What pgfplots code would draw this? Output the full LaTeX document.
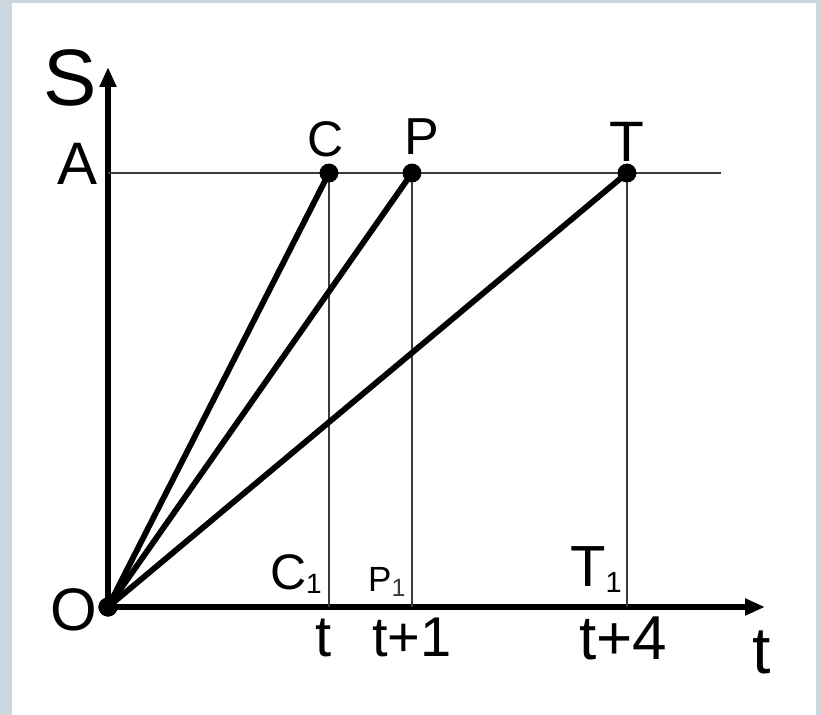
\documentclass[border=0pt]{standalone}
\usepackage{fontspec}
\setmainfont{Liberation Sans}
\usepackage{pgfplots}
\pgfplotsset{compat=1.18}
\usetikzlibrary{arrows.meta}
\definecolor{frame}{RGB}{203,214,222}
\definecolor{guide}{RGB}{60,60,60}
\newcommand\fs[1]{\fontsize{#1bp}{#1bp}\selectfont}
\begin{document}
\begin{tikzpicture}
\path[use as bounding box] (0,0) rectangle (821bp,715bp);
\fill[frame] (0,0) rectangle (821bp,715bp);
\fill[white] (12bp,0) rectangle (816bp,712bp);
\begin{axis}[
  at={(108bp,108bp)}, anchor=origin,
  x=1bp, y=1bp,
  xmin=0, xmax=657, ymin=0, ymax=540,
  axis lines=middle,
  axis line style={line width=5.5bp, -{Triangle[length=20bp,width=16bp]}},
  xtick=\empty, ytick=\empty,
  clip=false,
]
% level A and the drop lines
\addplot[guide, line width=1.8bp] coordinates {(0,434) (613,434)};
\addplot[guide, line width=1.6bp] coordinates {(221,0) (221,434)};
\addplot[guide, line width=1.6bp] coordinates {(304,0) (304,434)};
\addplot[guide, line width=1.6bp] coordinates {(519,0) (519,434)};
% the three runners
\addplot[black, line width=5.8bp, mark=*, mark size=6.5bp] coordinates {(0,0) (221,434)};
\addplot[black, line width=5.8bp, mark=*, mark size=6.5bp] coordinates {(0,0) (304,434)};
\addplot[black, line width=5.8bp, mark=*, mark size=6.5bp] coordinates {(0,0) (519,434)};

\node[anchor=base, inner sep=0pt] at (axis cs:-38,501) {\fs{80}S};
\node[anchor=base, inner sep=0pt] at (axis cs:-30,422) {\fs{60}A};
\node[anchor=base, inner sep=0pt] at (axis cs:-34,-24) {\fs{60}O};
\node[anchor=base, inner sep=0pt] at (axis cs:218,450) {\fs{50}C};
\node[anchor=base, inner sep=0pt] at (axis cs:314,452) {\fs{52}P};
\node[anchor=base, inner sep=0pt] at (axis cs:519,445) {\fs{57}T};
\node[anchor=base east, inner sep=0pt] at (axis cs:214,17) {\fs{50}C\raisebox{-4bp}{\fs{28}1}};
\node[anchor=base west, inner sep=0pt] at (axis cs:260,15) {\fs{35}P\raisebox{-5bp}{\fs{25}\color{guide}1}};
\node[anchor=base west, inner sep=0pt] at (axis cs:462,20) {\fs{58}T\raisebox{-6bp}{\fs{29}1}};
\node[anchor=base, inner sep=0pt] at (axis cs:216,-50) {\fs{58}t};
\node[anchor=base, inner sep=0pt] at (axis cs:304,-50) {\fs{56}t+1};
\node[anchor=base, inner sep=0pt] at (axis cs:515,-53) {\fs{62}t+4};
\node[anchor=base, inner sep=0pt] at (axis cs:654,-67) {\fs{66}t};
\end{axis}
\end{tikzpicture}
\end{document}
